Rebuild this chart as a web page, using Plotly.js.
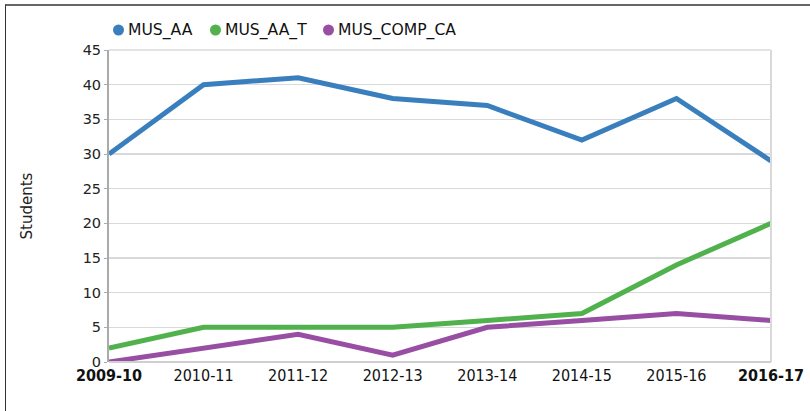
<!DOCTYPE html>
<html><head><meta charset="utf-8">
<script src="https://cdn.plot.ly/plotly-3.0.1.min.js"></script>
<style>
html,body{margin:0;padding:0;background:#fff;}
#wrap{position:relative;width:810px;height:411px;}
#chart{width:810px;height:411px;}
#frame{position:absolute;left:5px;top:4px;width:805px;height:407px;border-top:2px solid #666;border-left:1px solid #333;box-sizing:border-box;pointer-events:none;}
</style></head>
<body><div id="wrap"><div id="chart"></div><div id="frame"></div></div>
<script>
const categories = ["2009-10","2010-11","2011-12","2012-13","2013-14","2014-15","2015-16","2016-17"];
const musAA = [30, 40, 41, 38, 37, 32, 38, 29];
const musAAT = [2, 5, 5, 5, 6, 7, 14, 20];
const musCompCA = [0, 2, 4, 1, 5, 6, 7, 6];
const seriesNames = ["MUS_AA","MUS_AA_T","MUS_COMP_CA"];
const colors = ["#3a7fbd","#50b14d","#974ea3"];
const yTicks = [0,5,10,15,20,25,30,35,40,45];

const W = 810, H = 411, ML = 109, MR = 39, MT = 50, MB = 49;
const PW = W - ML - MR, PH = H - MT - MB;
const px2x = p => (p - ML) / PW;
const py2y = p => 1 + (MT - p) / PH;

const xs = categories.map((c,i)=>i);
const tickText = categories.map((c,i)=> (i===0||i===categories.length-1) ? "<b>"+c+"</b>" : c);
const data = [musAA, musAAT, musCompCA].map((ys,k)=>({
  type:"scatter", mode:"lines", x:xs, y:ys, name:seriesNames[k], showlegend:false,
  line:{color:colors[k], width:5}
}));

// custom legend (circle + label), positioned like the reference
const legendCircleX = [118.5, 215.5, 328.5];
const legendY = 30;
const shapes = [
  {type:"line", xref:"paper", yref:"paper", x0:1, x1:1, y0:0, y1:1, line:{color:"#d9d9d9", width:2}},
  {type:"line", xref:"paper", yref:"paper", x0:0, x1:1, y0:0, y1:0, line:{color:"#cfcfcf", width:2}},
  {type:"line", xref:"paper", yref:"paper", x0:0, x1:1, y0:1, y1:1, line:{color:"#e3e3e3", width:2}}
];
const annotations = [];
seriesNames.forEach((n,k)=>{
  shapes.push({type:"circle", xref:"paper", yref:"paper", xsizemode:"pixel", ysizemode:"pixel",
    xanchor:px2x(legendCircleX[k]), yanchor:py2y(legendY), x0:-5.5, x1:5.5, y0:-5.5, y1:5.5,
    fillcolor:colors[k], line:{width:0}});
  annotations.push({xref:"paper", yref:"paper", x:px2x(legendCircleX[k]+7), y:py2y(legendY),
    xanchor:"left", yanchor:"middle", showarrow:false, text:n,
    font:{family:"DejaVu Sans", size:15.6, color:"#111"}});
});

const layout = {
  width:W, height:H,
  margin:{l:ML, r:MR, t:MT, b:MB, autoexpand:false},
  paper_bgcolor:"#fff", plot_bgcolor:"#fff",
  showlegend:false,
  xaxis:{range:[0,7], tickvals:xs, ticktext:tickText, showgrid:false, zeroline:false,
    tickfont:{family:"DejaVu Sans Condensed", size:16, color:"#111"},
    showline:false, ticks:"", ticklabelstandoff:2, fixedrange:true},
  yaxis:{range:[0,45], tickvals:yTicks, showgrid:true, gridcolor:"#d9d9d9", gridwidth:1.5,
    zeroline:false, showline:true, linecolor:"#aaa", linewidth:2, ticks:"outside", ticklen:3,
    tickcolor:"#aaa", tickfont:{family:"DejaVu Sans", size:14.5, color:"#222"},
    title:{text:"Students", font:{family:"DejaVu Sans", size:15, color:"#222"}, standoff:46},
    fixedrange:true},
  shapes:shapes,
  annotations:annotations
};
Plotly.newPlot("chart", data, layout, {displayModeBar:false, staticPlot:true});
</script></body></html>
